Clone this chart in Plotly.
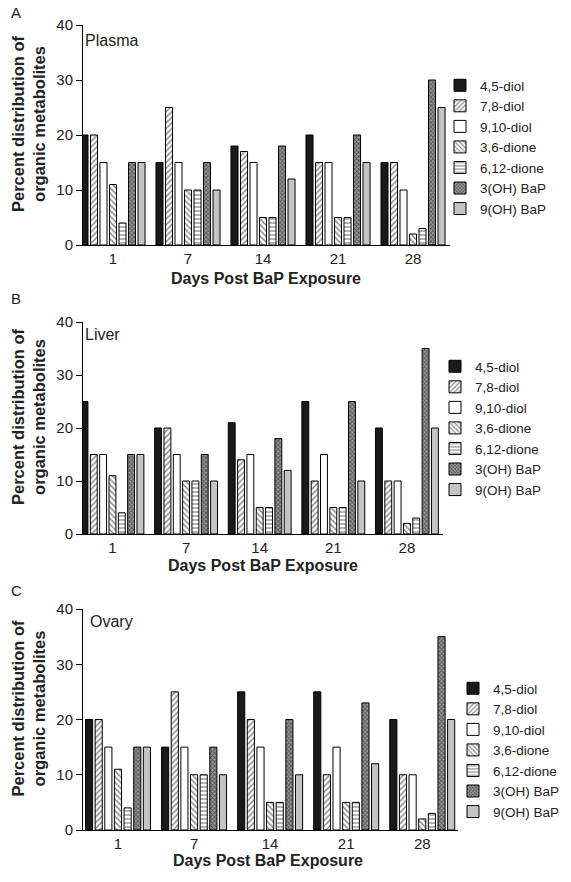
import plotly.graph_objects as go

W, H = 571, 882

days = ["1", "7", "14", "21", "28"]
series_names = ["4,5-diol", "7,8-diol", "9,10-diol", "3,6-dione", "6,12-dione", "3(OH) BaP", "9(OH) BaP"]

# values per series, indexed by day (1, 7, 14, 21, 28)
plasma_45diol = [20, 15, 18, 20, 15]
plasma_78diol = [20, 25, 17, 15, 15]
plasma_910diol = [15, 15, 15, 15, 10]
plasma_36dione = [11, 10, 5, 5, 2]
plasma_612dione = [4, 10, 5, 5, 3]
plasma_3ohbap = [15, 15, 18, 20, 30]
plasma_9ohbap = [15, 10, 12, 15, 25]

liver_45diol = [25, 20, 21, 25, 20]
liver_78diol = [15, 20, 14, 10, 10]
liver_910diol = [15, 15, 15, 15, 10]
liver_36dione = [11, 10, 5, 5, 2]
liver_612dione = [4, 10, 5, 5, 3]
liver_3ohbap = [15, 15, 18, 25, 35]
liver_9ohbap = [15, 10, 12, 10, 20]

ovary_45diol = [20, 15, 25, 25, 20]
ovary_78diol = [20, 25, 20, 10, 10]
ovary_910diol = [15, 15, 15, 15, 10]
ovary_36dione = [11, 10, 5, 5, 2]
ovary_612dione = [4, 10, 5, 5, 3]
ovary_3ohbap = [15, 15, 20, 23, 35]
ovary_9ohbap = [15, 10, 10, 12, 20]

y_ticks = [0, 10, 20, 30, 40]

panels = [
    ("A", "Plasma", [plasma_45diol, plasma_78diol, plasma_910diol, plasma_36dione,
                     plasma_612dione, plasma_3ohbap, plasma_9ohbap]),
    ("B", "Liver", [liver_45diol, liver_78diol, liver_910diol, liver_36dione,
                    liver_612dione, liver_3ohbap, liver_9ohbap]),
    ("C", "Ovary", [ovary_45diol, ovary_78diol, ovary_910diol, ovary_36dione,
                    ovary_612dione, ovary_3ohbap, ovary_9ohbap]),
]

styles = [
    dict(color="#1a1a1a"),
    dict(color="white", pattern=dict(shape="/", size=4, solidity=0.35, fgcolor="black", bgcolor="white")),
    dict(color="white"),
    dict(color="white", pattern=dict(shape="\\", size=4, solidity=0.35, fgcolor="black", bgcolor="white")),
    dict(color="white", pattern=dict(shape="-", size=4, solidity=0.3, fgcolor="black", bgcolor="white")),
    dict(color="#666666", pattern=dict(shape="x", size=3, solidity=0.5, fgcolor="#111111", bgcolor="#9a9a9a")),
    dict(color="#c4c4c4"),
]

def px(x):
    return x / W

def py(y):
    return 1 - y / H

# layout geometry (pixels)
geo = [
    dict(x0=83, x1=450, y0=245, y1=25, r=[-0.40, 4.493], leg=147, legx=440, lab=(16, 12), name=(83, 41), xt=(266, 278)),
    dict(x0=83, x1=443, y0=534, y1=322, r=[-0.40, 4.49], leg=428, legx=435, lab=(16, 298), name=(83, 334), xt=(263, 565)),
    dict(x0=83, x1=458, y0=830, y1=609, r=[-0.46, 4.47], leg=750, legx=453, lab=(16, 590), name=(88, 621), xt=(268, 860)),
]

fig = go.Figure()
font = "Liberation Sans, Arial, sans-serif"
annotations = []
layout = {}

for i, (letter, tissue, vals) in enumerate(panels):
    n = "" if i == 0 else str(i + 1)
    legname = "legend" + n
    for sname, v, st in zip(series_names, vals, styles):
        marker = dict(color=st["color"], line=dict(color="black", width=1))
        if "pattern" in st:
            marker["pattern"] = st["pattern"]
        fig.add_trace(go.Bar(x=days, y=v, name=sname, marker=marker,
                             xaxis="x" + n, yaxis="y" + n, legend=legname))
    g = geo[i]
    layout["xaxis" + n] = dict(
        domain=[px(g["x0"]), px(g["x1"])], anchor="y" + n, type="category",
        range=g["r"], showline=True, linecolor="black", linewidth=1, ticks="",
        showgrid=False, zeroline=False, automargin=False,
        tickfont=dict(family=font, size=15, color="#222"),
    )
    layout["yaxis" + n] = dict(
        domain=[py(g["y0"]), py(g["y1"])], anchor="x" + n, range=[0, 40],
        tickvals=y_ticks, showline=True, linecolor="black", linewidth=1,
        ticks="outside", ticklen=6, tickcolor="black", showgrid=False,
        zeroline=False, automargin=False,
        tickfont=dict(family=font, size=15, color="#222"),
    )
    layout[legname] = dict(
        x=px(g["legx"]), y=py(g["leg"]), xanchor="left", yanchor="middle",
        font=dict(family=font, size=13.5, color="#222"), bgcolor="rgba(0,0,0,0)",
        tracegroupgap=0, traceorder="normal",
    )
    annotations.append(dict(x=px(g["lab"][0]), y=py(g["lab"][1]), xref="paper", yref="paper",
                            text=letter, showarrow=False, xanchor="center", yanchor="middle",
                            font=dict(family=font, size=15, color="#222")))
    annotations.append(dict(x=px(g["name"][0]), y=py(g["name"][1]), xref="paper", yref="paper",
                            text=tissue, showarrow=False, xanchor="left", yanchor="middle",
                            font=dict(family=font, size=16, color="#222")))
    annotations.append(dict(x=px(g["xt"][0]), y=py(g["xt"][1]), xref="paper", yref="paper",
                            text="<b>Days Post BaP Exposure</b>", showarrow=False,
                            xanchor="center", yanchor="middle",
                            font=dict(family=font, size=16, color="#222")))
    ymid = (g["y0"] + g["y1"]) / 2 - 11
    annotations.append(dict(x=px(28), y=py(ymid), xref="paper", yref="paper",
                            text="<b>Percent distribution of<br>organic metabolites</b>",
                            showarrow=False, textangle=-90, xanchor="center", yanchor="middle",
                            font=dict(family=font, size=16.5, color="#222")))

fig.update_layout(
    width=W, height=H, margin=dict(l=0, r=0, t=0, b=0),
    paper_bgcolor="white", plot_bgcolor="white",
    barmode="group", bargap=0.113, bargroupgap=0.26,
    annotations=annotations, showlegend=True,
    **layout,
)

fig.write_html("out.html", config={"displayModeBar": False},
               post_script="document.body.style.margin='0';")
